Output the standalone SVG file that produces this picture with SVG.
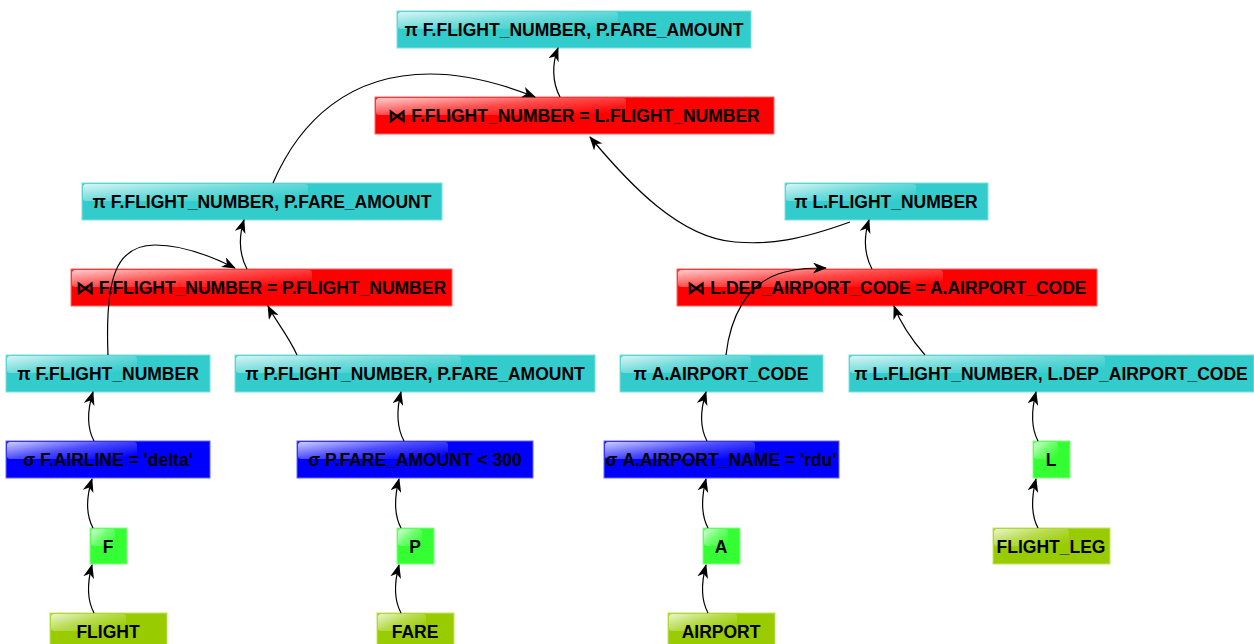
<svg xmlns="http://www.w3.org/2000/svg" width="1254" height="644" viewBox="0 0 1254 644">
<style>
text{font-family:"Liberation Sans",Arial,sans-serif;font-weight:bold;font-size:17.5px;fill:#000;text-anchor:middle}
.proj{fill:#33cccc;stroke:#7fe0e0;stroke-width:1}
.join{fill:#ff0000;stroke:#ff6666;stroke-width:1}
.sel{fill:#0000ff;stroke:#6666ff;stroke-width:1}
.ren{fill:#33ff33;stroke:#88ff88;stroke-width:1}
.tab{fill:#99cc00;stroke:#c4e466;stroke-width:1}
.gl{fill:url(#gloss)}
.edge{fill:none;stroke:#000;stroke-width:1.2;marker-end:url(#arr)}
</style>
<defs>
<linearGradient id="gloss" x1="0" y1="0" x2="1" y2="0.8">
<stop offset="0" stop-color="#fff" stop-opacity="0.8"/>
<stop offset="0.5" stop-color="#fff" stop-opacity="0.3"/>
<stop offset="1" stop-color="#fff" stop-opacity="0"/>
</linearGradient>
<marker id="arr" markerUnits="userSpaceOnUse" markerWidth="15" markerHeight="11" refX="13" refY="5.5" orient="auto" viewBox="0 0 15 11">
<path d="M0,0 L14,5.5 L0,11 L4,5.5 z" fill="#000"/>
</marker>
</defs>
<rect width="1254" height="644" fill="#fff"/>
<g id="n1"><rect class="proj" x="397" y="11" width="354" height="37"/><rect class="gl" x="398" y="12" width="220" height="17" rx="3"/><text x="574" y="36">π F.FLIGHT_NUMBER, P.FARE_AMOUNT</text></g>
<g id="n2"><rect class="join" x="375" y="97" width="399" height="37"/><rect class="gl" x="376" y="98" width="250" height="17" rx="3"/><text x="574" y="122">⋈ F.FLIGHT_NUMBER = L.FLIGHT_NUMBER</text></g>
<g id="n3"><rect class="proj" x="82" y="183" width="360" height="37"/><rect class="gl" x="83" y="184" width="225" height="17" rx="3"/><text x="262" y="208">π F.FLIGHT_NUMBER, P.FARE_AMOUNT</text></g>
<g id="n4"><rect class="proj" x="785" y="183" width="203" height="37"/><rect class="gl" x="786" y="184" width="130" height="17" rx="3"/><text x="886" y="208">π L.FLIGHT_NUMBER</text></g>
<g id="n5"><rect class="join" x="71" y="269" width="381" height="37"/><rect class="gl" x="72" y="270" width="240" height="17" rx="3"/><text x="261" y="294">⋈ F.FLIGHT_NUMBER = P.FLIGHT_NUMBER</text></g>
<g id="n6"><rect class="join" x="677" y="269" width="420" height="37"/><rect class="gl" x="678" y="270" width="265" height="17" rx="3"/><text x="887" y="294">⋈ L.DEP_AIRPORT_CODE = A.AIRPORT_CODE</text></g>
<g id="n7"><rect class="proj" x="6" y="355" width="204" height="37"/><rect class="gl" x="7" y="356" width="130" height="17" rx="3"/><text x="108" y="380">π F.FLIGHT_NUMBER</text></g>
<g id="n8"><rect class="proj" x="235" y="355" width="360" height="37"/><rect class="gl" x="236" y="356" width="225" height="17" rx="3"/><text x="415" y="380">π P.FLIGHT_NUMBER, P.FARE_AMOUNT</text></g>
<g id="n9"><rect class="proj" x="620" y="355" width="203" height="37"/><rect class="gl" x="621" y="356" width="130" height="17" rx="3"/><text x="721" y="380">π A.AIRPORT_CODE</text></g>
<g id="n10"><rect class="proj" x="849" y="355" width="405" height="37"/><rect class="gl" x="850" y="356" width="255" height="17" rx="3"/><text x="1051" y="380">π L.FLIGHT_NUMBER, L.DEP_AIRPORT_CODE</text></g>
<g id="n11"><rect class="sel" x="6" y="441" width="204" height="37"/><rect class="gl" x="7" y="442" width="130" height="17" rx="3"/><text x="108" y="466">σ F.AIRLINE = 'delta'</text></g>
<g id="n12"><rect class="sel" x="297" y="441" width="236" height="37"/><rect class="gl" x="298" y="442" width="150" height="17" rx="3"/><text x="415" y="466">σ P.FARE_AMOUNT &lt; 300</text></g>
<g id="n13"><rect class="sel" x="604" y="441" width="235" height="37"/><rect class="gl" x="605" y="442" width="150" height="17" rx="3"/><text x="721" y="466">σ A.AIRPORT_NAME = 'rdu'</text></g>
<g id="n14"><rect class="ren" x="1033" y="441" width="37" height="37"/><rect class="gl" x="1034" y="442" width="24" height="17" rx="3"/><text x="1051" y="466">L</text></g>
<g id="n15"><rect class="ren" x="90" y="528" width="37" height="36"/><rect class="gl" x="91" y="529" width="24" height="17" rx="3"/><text x="108" y="552.5">F</text></g>
<g id="n16"><rect class="ren" x="397" y="528" width="37" height="36"/><rect class="gl" x="398" y="529" width="24" height="17" rx="3"/><text x="415" y="552.5">P</text></g>
<g id="n17"><rect class="ren" x="703" y="528" width="37" height="36"/><rect class="gl" x="704" y="529" width="24" height="17" rx="3"/><text x="721" y="552.5">A</text></g>
<g id="n18"><rect class="tab" x="993" y="528" width="117" height="36"/><rect class="gl" x="994" y="529" width="75" height="17" rx="3"/><text x="1051" y="552.5">FLIGHT_LEG</text></g>
<g id="n19"><rect class="tab" x="50" y="613" width="117" height="37"/><rect class="gl" x="51" y="614" width="75" height="17" rx="3"/><text x="108" y="637.5">FLIGHT</text></g>
<g id="n20"><rect class="tab" x="377" y="613" width="77" height="37"/><rect class="gl" x="378" y="614" width="48" height="17" rx="3"/><text x="415" y="637.5">FARE</text></g>
<g id="n21"><rect class="tab" x="668" y="613" width="107" height="37"/><rect class="gl" x="669" y="614" width="68" height="17" rx="3"/><text x="721" y="637.5">AIRPORT</text></g>
<g id="connectors">
<path class="edge" d="M94,613 C86,598 88,580 92,565"/>
<path class="edge" d="M93,528 C85,513 87,495 92,479"/>
<path class="edge" d="M94,441 C86,426 88,408 93,392"/>
<path class="edge" d="M108,355 C105,280 115,245 155,245 C185,245 215,258 235,268"/>
<path class="edge" d="M297,355 C288,335 275,320 268,306"/>
<path class="edge" d="M247,269 C239,254 239,236 244,220"/>
<path class="edge" d="M273,183 C300,120 350,74 430,74 C470,74 505,85 535,97"/>
<path class="edge" d="M560,97 C552,82 552,64 558,48"/>
<path class="edge" d="M850,222 C800,240 770,245 735,242 C680,238 630,185 590,137"/>
<path class="edge" d="M872,269 C864,254 864,236 869,220"/>
<path class="edge" d="M726,355 C730,320 745,282 785,272 C800,268 812,268 826,268"/>
<path class="edge" d="M925,355 C912,340 900,322 894,306"/>
<path class="edge" d="M707,441 C699,426 701,408 706,392"/>
<path class="edge" d="M708,528 C700,513 702,495 706,479"/>
<path class="edge" d="M708,613 C700,598 702,580 706,565"/>
<path class="edge" d="M1038,528 C1030,513 1032,495 1036,479"/>
<path class="edge" d="M1038,441 C1030,426 1032,408 1036,392"/>
<path class="edge" d="M401,613 C393,598 395,580 399,565"/>
<path class="edge" d="M401,528 C393,513 395,495 399,479"/>
<path class="edge" d="M404,441 C396,426 397,408 401,392"/>
</g>
</svg>
